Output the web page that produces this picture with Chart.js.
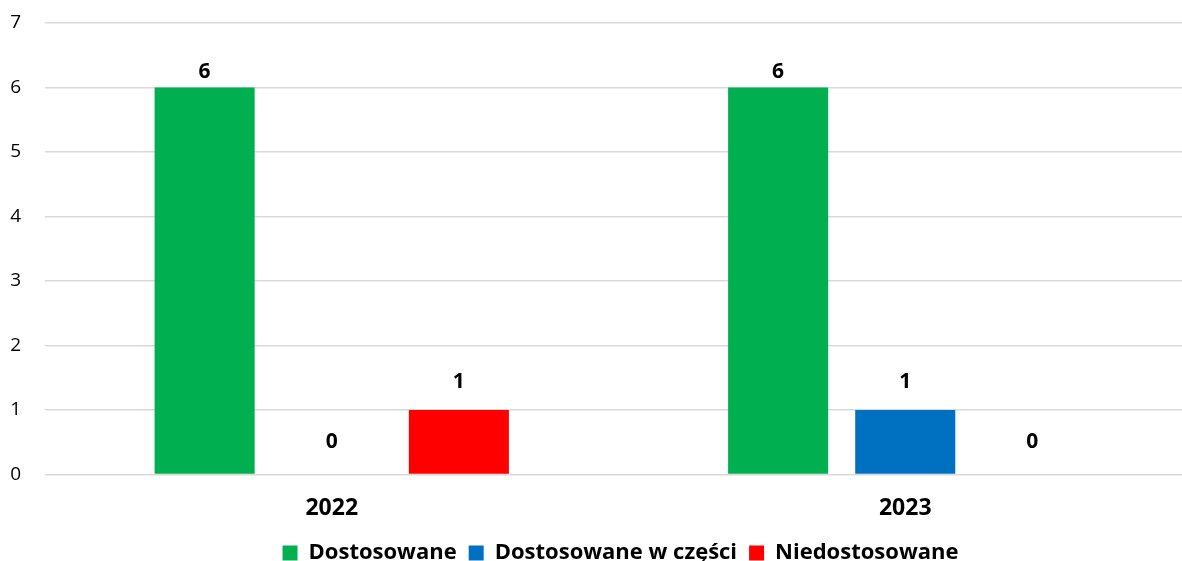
<!DOCTYPE html>
<html>
<head>
<meta charset="utf-8">
<script src="https://cdn.jsdelivr.net/npm/chart.js@4/dist/chart.umd.min.js"></script>
<style>
	html, body { margin: 0; padding: 0; background: #fff; overflow: hidden; }
	#wrap { width: 1192px; height: 561px; }
</style>
</head>
<body>
<div id="wrap"><canvas id="chart"></canvas></div>
<script>
	const years = ['2022', '2023'];
	const dostosowane = [6, 6];
	const wCzesci = [0, 1];
	const niedostosowane = [1, 0];
	const yTicks = [0, 1, 2, 3, 4, 5, 6, 7];

	const FONT = '"Open Sans", "Noto Sans", sans-serif';

	// Draws the bold value above each bar (like Excel "outside end")
	const valueLabels = {
		id: 'valueLabels',
		afterDatasetsDraw(chart) {
			const ctx = chart.ctx;
			ctx.save();
			ctx.font = 'bold 21px ' + FONT;
			ctx.fillStyle = '#000';
			ctx.textAlign = 'center';
			ctx.textBaseline = 'bottom';
			chart.data.datasets.forEach((ds, i) => {
				chart.getDatasetMeta(i).data.forEach((bar, j) => {
					const v = ds.data[j];
					const off = v === 0 ? 22 : (v === 1 ? 17 : 5);
					ctx.fillText(String(v), bar.x, bar.y - off);
				});
			});
			ctx.restore();
		}
	};

	// Legend in the original sits a bit right of centre and close to the bottom
	const legendShift = {
		id: 'legendShift',
		afterLayout(chart) {
			const lg = chart.legend;
			if (lg) {
				lg.left += 22;
				lg.right += 22;
				lg.top -= 4;
				lg.bottom -= 4;
			}
		}
	};

	new Chart(document.getElementById('chart'), {
		type: 'bar',
		data: {
			labels: years,
			datasets: [{
				label: 'Dostosowane',
				data: dostosowane,
				backgroundColor: '#00B050'
			}, {
				label: 'Dostosowane w części',
				data: wCzesci,
				backgroundColor: '#0070C0'
			}, {
				label: 'Niedostosowane',
				data: niedostosowane,
				backgroundColor: '#FF0000'
			}]
		},
		options: {
			responsive: true,
			maintainAspectRatio: false,
			animation: false,
			datasets: {
				bar: { categoryPercentage: 0.665, barPercentage: 0.787 }
			},
			layout: { padding: { top: 23, right: 0, left: 5, bottom: -17 } },
			plugins: {
				legend: {
					position: 'bottom',
					labels: {
						boxWidth: 15,
						boxHeight: 15,
						padding: 12,
						color: '#000',
						font: { family: FONT, size: 22, weight: 'bold' }
					}
				},
				tooltip: { enabled: false }
			},
			scales: {
				x: {
					grid: { display: false },
					border: { display: false },
					ticks: {
						color: '#000',
						padding: 12,
						font: { family: FONT, size: 23, weight: 'bold' }
					}
				},
				y: {
					min: 0,
					max: 7,
					afterBuildTicks(axis) {
						axis.ticks = yTicks.map(v => ({ value: v }));
					},
					afterFit(axis) {
						axis.width = 40;
						axis.paddingTop = 0;
						axis.paddingBottom = 0;
					},
					grid: { color: '#d9d9d9', lineWidth: 1.5, drawTicks: false },
					border: { display: false },
					ticks: {
						color: '#000',
						padding: 24,
						font: { family: FONT, size: 19 }
					}
				}
			}
		},
		plugins: [valueLabels, legendShift]
	});
</script>
</body>
</html>
